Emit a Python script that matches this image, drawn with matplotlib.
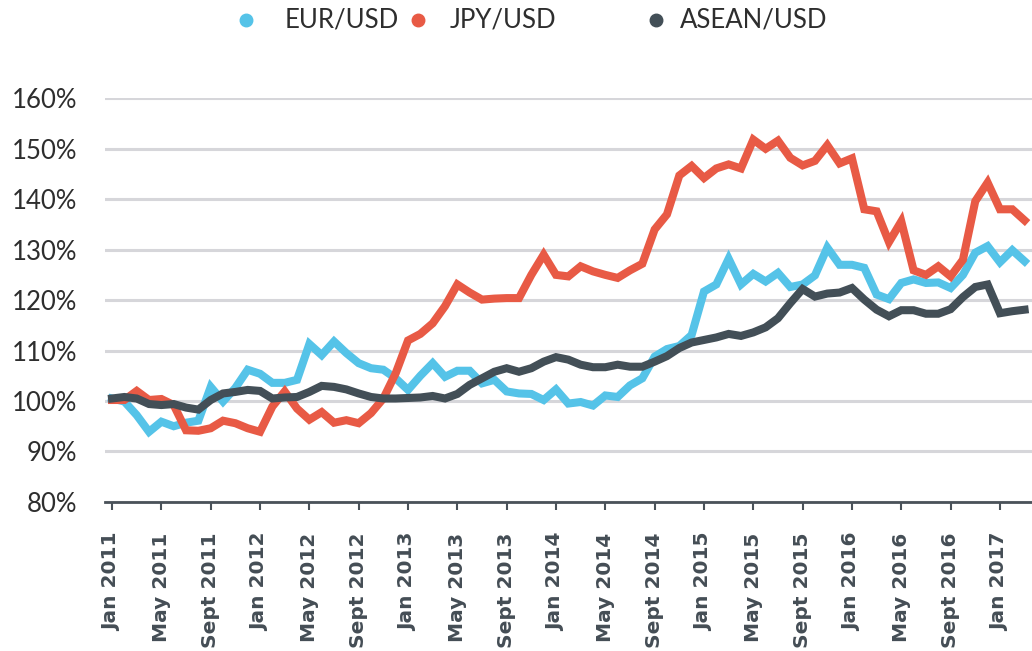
import matplotlib
matplotlib.use("Agg")
import matplotlib.pyplot as plt
from matplotlib.lines import Line2D
import numpy as np

# monthly index, Jan 2011 = 100 (Jan 2011 .. Mar 2017)
eur_usd = [100.5, 99.9, 97.2, 93.9, 95.9, 95.0, 95.7, 96.1, 102.8, 99.9,
           102.6, 106.2, 105.4, 103.6, 103.6, 104.2, 111.3, 109.1, 111.8, 109.5,
           107.5, 106.5, 106.2, 104.5, 102.2, 105.0, 107.5, 104.8, 106.0, 106.0,
           103.5, 104.2, 101.9, 101.5, 101.4, 100.2, 102.3, 99.5, 99.8, 99.1,
           101.1, 100.8, 103.1, 104.5, 108.8, 110.3, 110.9, 113.1, 121.7, 123.1,
           128.2, 123.1, 125.2, 123.7, 125.4, 122.6, 123.1, 124.9, 130.4, 127.0,
           127.0, 126.4, 121.1, 120.2, 123.4, 124.1, 123.4, 123.5, 122.4, 125.0,
           129.4, 130.7, 127.5, 129.9, 127.7]
jpy_usd = [100.2, 100.2, 102.0, 100.2, 100.4, 99.2, 94.2, 94.1, 94.6, 96.1,
           95.6, 94.6, 93.9, 98.9, 101.9, 98.5, 96.3, 97.8, 95.7, 96.2,
           95.6, 97.6, 100.5, 105.5, 112.0, 113.3, 115.4, 118.8, 123.1, 121.5,
           120.1, 120.3, 120.4, 120.4, 125.0, 129.0, 125.0, 124.7, 126.7, 125.7,
           125.0, 124.4, 125.9, 127.2, 134.0, 137.0, 144.7, 146.6, 144.2, 146.1,
           146.9, 146.1, 151.8, 150.0, 151.6, 148.2, 146.7, 147.6, 150.7, 147.1,
           148.1, 138.0, 137.6, 131.5, 135.6, 125.9, 125.0, 126.7, 124.7, 128.0,
           139.6, 143.3, 138.0, 138.0, 135.8]
asean_usd = [100.5, 100.8, 100.5, 99.4, 99.2, 99.4, 98.7, 98.3, 100.2, 101.5,
             101.8, 102.2, 102.0, 100.5, 100.7, 100.8, 101.8, 103.0, 102.8, 102.3,
             101.5, 100.8, 100.5, 100.5, 100.6, 100.7, 101.0, 100.5, 101.4, 103.2,
             104.5, 105.8, 106.5, 105.8, 106.5, 107.8, 108.7, 108.2, 107.2, 106.7,
             106.7, 107.2, 106.8, 106.8, 107.8, 108.9, 110.5, 111.6, 112.1, 112.6,
             113.3, 112.9, 113.6, 114.6, 116.4, 119.4, 122.2, 120.7, 121.3, 121.5,
             122.4, 120.1, 118.1, 116.8, 118.0, 118.0, 117.3, 117.3, 118.2, 120.6,
             122.6, 123.1, 117.4, 117.8, 118.1]

series_names = ["EUR/USD", "JPY/USD", "ASEAN/USD"]
tick_labels = ["Jan 2011", "May 2011", "Sept 2011", "Jan 2012", "May 2012",
               "Sept 2012", "Jan 2013", "May 2013", "Sept 2013", "Jan 2014",
               "May 2014", "Sept 2014", "Jan 2015", "May 2015", "Sept 2015",
               "Jan 2016", "May 2016", "Sept 2016", "Jan 2017"]
y_ticks = [80, 90, 100, 110, 120, 130, 140, 150, 160]

BLUE = "#55c3e8"
RED = "#e85a45"
DARK = "#434f57"
GRID = "#d6d6da"
colors = [BLUE, RED, DARK]

plt.rcParams["font.family"] = ["Lato", "DejaVu Sans"]

W, H = 1032, 651
fig = plt.figure(figsize=(W / 100, H / 100), dpi=100)
ax = fig.add_axes([0.102, 0.229, 0.898, 0.620])

x = np.arange(len(eur_usd))
for vals, c, z in zip([eur_usd, jpy_usd, asean_usd], colors, [3, 3, 4]):
    ax.plot(x, vals, color=c, lw=5.8, solid_joinstyle="miter", zorder=z)

ax.set_ylim(80, 160)
ax.set_xlim(-0.55, 74.6)
ax.set_yticks(y_ticks)
ax.set_yticklabels([f"{v}%" for v in y_ticks], fontsize=18.5, color="#2e2e2e")
ax.yaxis.grid(True, color=GRID, lw=2.2)
ax.set_axisbelow(True)
ax.tick_params(axis="y", length=0, pad=20)

ax.set_xticks(x[::4])
ax.set_xticklabels(tick_labels, rotation=90, fontsize=14.5, fontweight="bold",
                   color="#444d55", family=["DejaVu Sans"])
ax.tick_params(axis="x", length=6, width=1.5, color="#4a5259", pad=16)

for s in ["top", "right", "left"]:
    ax.spines[s].set_visible(False)
ax.spines["bottom"].set_color("#4a5259")
ax.spines["bottom"].set_linewidth(2)
ax.spines["bottom"].set_zorder(2)

# legend placed by hand (uneven spacing as in the original)
marker_px = [246, 418, 656]
text_px = [285, 450, 680]
ly = 1 - 20 / H
for name, c, mx, tx in zip(series_names, colors, marker_px, text_px):
    fig.add_artist(Line2D([mx / W], [ly], ls="", marker="o", ms=9, color=c,
                          transform=fig.transFigure))
    fig.text(tx / W, ly, name, fontsize=18.5, color="#2e2e2e",
             ha="left", va="center")

fig.savefig("out.png", dpi=100)
